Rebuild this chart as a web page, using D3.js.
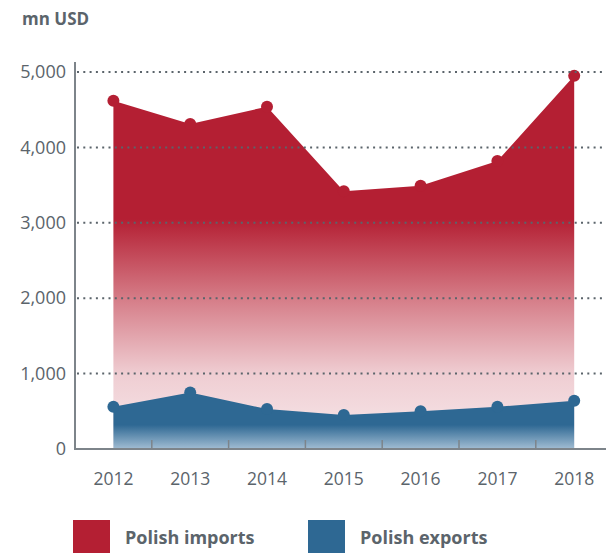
<!DOCTYPE html>
<html>
<head>
<meta charset="utf-8">
<script src="https://cdn.jsdelivr.net/npm/d3@7"></script>
<style>
  body { margin: 0; background: #fff; }
  svg { display: block; font-family: "Open Sans", sans-serif; }
</style>
</head>
<body>
<svg id="chart" width="606" height="553"></svg>
<script>
// data, mn USD
const years = ["2012", "2013", "2014", "2015", "2016", "2017", "2018"];
const imports = [4620, 4310, 4540, 3420, 3490, 3820, 4950];
const exports = [560, 750, 530, 450, 500, 560, 640];
const yTicks = [0, 1000, 2000, 3000, 4000, 5000];
const legendLabels = ["Polish imports", "Polish exports"];

const red = "#b41f33", blue = "#2e6893", grey = "#5b646b";

const svg = d3.select("#chart");

const x = d3.scaleBand().domain(years).range([75, 612.6]);
const y = d3.scaleLinear().domain([0, 5000]).range([449, 72]);
const cx = d => x(d) + x.bandwidth() / 2;

// gradients
const defs = svg.append("defs");
const gImp = defs.append("linearGradient").attr("id", "gImp")
  .attr("gradientUnits", "userSpaceOnUse")
  .attr("x1", 0).attr("x2", 0).attr("y1", y(5000)).attr("y2", y(0));
gImp.append("stop").attr("offset", 0).attr("stop-color", red);
gImp.append("stop").attr("offset", 0.39).attr("stop-color", red);
gImp.append("stop").attr("offset", 0.6).attr("stop-color", "#d57c87");
gImp.append("stop").attr("offset", 0.8).attr("stop-color", "#efcdd2");
gImp.append("stop").attr("offset", 1).attr("stop-color", "#f8eaec");

const gExp = defs.append("linearGradient").attr("id", "gExp")
  .attr("gradientUnits", "userSpaceOnUse")
  .attr("x1", 0).attr("x2", 0).attr("y1", y(800)).attr("y2", y(0));
gExp.append("stop").attr("offset", 0).attr("stop-color", blue);
gExp.append("stop").attr("offset", 0.6).attr("stop-color", blue);
gExp.append("stop").attr("offset", 1).attr("stop-color", "#a2bdd3");

// areas
const area = vals => d3.area()
  .x((d, i) => cx(years[i]))
  .y0(y(0))
  .y1(d => y(d))(vals);

svg.append("path").attr("d", area(imports)).attr("fill", "url(#gImp)");
svg.selectAll(".dotImp").data(imports).enter().append("circle")
  .attr("cx", (d, i) => cx(years[i])).attr("cy", d => y(d))
  .attr("r", 6).attr("fill", red);

svg.append("path").attr("d", area(exports)).attr("fill", "url(#gExp)");
svg.selectAll(".dotExp").data(exports).enter().append("circle")
  .attr("cx", (d, i) => cx(years[i])).attr("cy", d => y(d))
  .attr("r", 6).attr("fill", blue);

// dotted grid lines
svg.selectAll(".grid").data(yTicks.filter(d => d > 0)).enter().append("line")
  .attr("x1", 77).attr("x2", 606)
  .attr("y1", d => y(d)).attr("y2", d => y(d))
  .attr("stroke", grey).attr("stroke-width", 2)
  .attr("stroke-dasharray", "2 4.3");

// y axis
const yAxis = svg.append("g").attr("transform", "translate(75,0)")
  .call(d3.axisLeft(y).tickValues(yTicks).tickSize(0).tickPadding(9)
    .tickFormat(d3.format(",")));
yAxis.select(".domain").remove();
yAxis.selectAll("text").attr("font-size", 18).attr("fill", grey)
  .attr("font-family", "Open Sans, sans-serif");
svg.append("line").attr("x1", 75).attr("x2", 75).attr("y1", 62).attr("y2", 450)
  .attr("stroke", "#7d848a").attr("stroke-width", 2);

// x axis
const xAxis = svg.append("g").attr("transform", `translate(0,${y(0)})`)
  .call(d3.axisBottom(x).tickSize(0).tickPadding(24));
xAxis.select(".domain").remove();
xAxis.selectAll("text").attr("font-size", 17.5).attr("fill", grey)
  .attr("font-family", "Open Sans, sans-serif");
svg.append("line").attr("x1", 74).attr("x2", 606).attr("y1", y(0)).attr("y2", y(0))
  .attr("stroke", "#7d848a").attr("stroke-width", 2);
svg.selectAll(".xtick").data(years.slice(1)).enter().append("line")
  .attr("x1", d => x(d)).attr("x2", d => x(d))
  .attr("y1", y(0)).attr("y2", y(0) - 9)
  .attr("stroke", "#7d848a").attr("stroke-width", 1.5);

// unit label
svg.append("text").attr("x", 22).attr("y", 25).text("mn USD")
  .attr("font-size", 17).attr("font-weight", 700).attr("fill", grey);

// legend
const legend = svg.selectAll(".legend").data(legendLabels).enter().append("g")
  .attr("transform", (d, i) => `translate(${i === 0 ? 73 : 308},520)`);
legend.append("rect").attr("width", 37).attr("height", 40)
  .attr("fill", (d, i) => i === 0 ? red : blue);
legend.append("text").attr("x", 52).attr("y", 24).text(d => d)
  .attr("font-size", 18).attr("font-weight", 700).attr("fill", grey);
</script>
</body>
</html>
